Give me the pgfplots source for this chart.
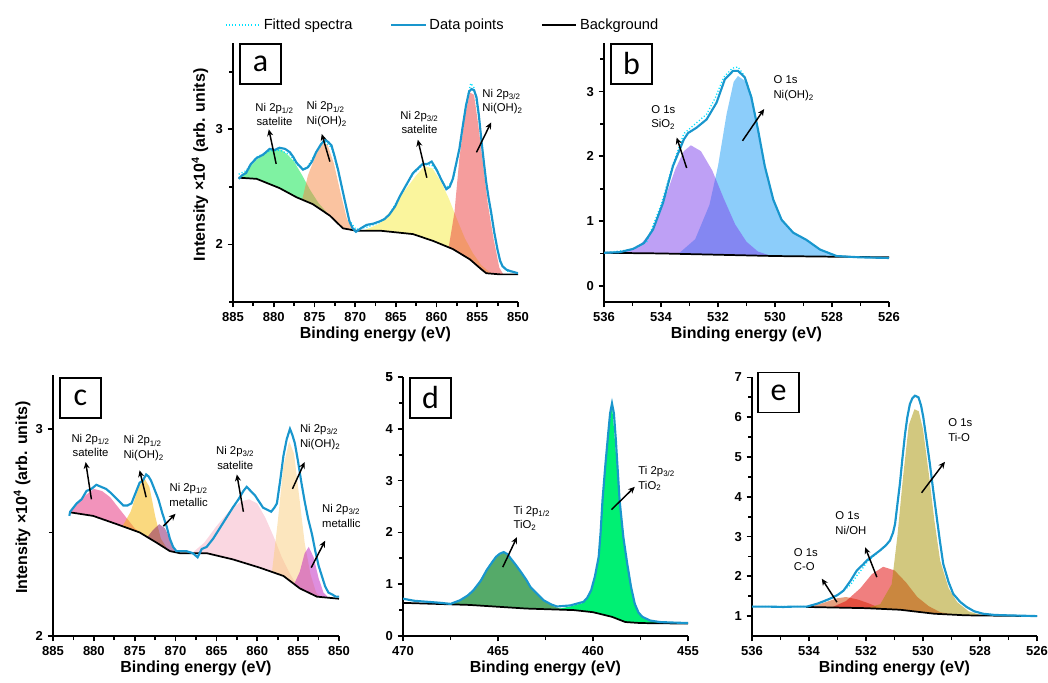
\documentclass[border=0pt]{standalone}
\usepackage{pgfplots}
\pgfplotsset{compat=1.18}
\usepackage{fontspec}
\setmainfont{Liberation Sans}
\newfontfamily\letterfont{Carlito}
\usetikzlibrary{arrows.meta}
\definecolor{dataline}{RGB}{25,150,205}
\definecolor{fitline}{RGB}{0,225,255}
\definecolor{agreen}{RGB}{0,230,70}
\definecolor{apeach}{RGB}{245,135,65}
\definecolor{ayellow}{RGB}{245,235,60}
\definecolor{ared}{RGB}{235,60,60}
\definecolor{bpurple}{RGB}{125,65,235}
\definecolor{bblue}{RGB}{25,155,245}
\definecolor{cpink}{RGB}{230,40,120}
\definecolor{cyellow}{RGB}{245,180,0}
\definecolor{cmauve}{RGB}{130,20,100}
\definecolor{clight}{RGB}{245,175,195}
\definecolor{cpeach}{RGB}{250,205,125}
\definecolor{cmag}{RGB}{190,30,190}
\definecolor{dgreen}{RGB}{85,170,105}
\definecolor{dbright}{RGB}{0,240,115}
\definecolor{esalmon}{RGB}{205,65,0}
\definecolor{ered}{RGB}{225,0,0}
\definecolor{eolive}{RGB}{165,145,0}
\pgfplotsset{
  xps/.style={scale only axis, anchor=south west, x dir=reverse,
    axis x line*=bottom, axis y line*=left, tick align=outside,
    axis line style={line width=1.3pt},
    every tick/.append style={line width=1.3pt, black},
    major tick length=4pt, minor tick length=3pt,
    tick label style={font=\bfseries\fontsize{9.75}{10}\selectfont},
    /pgf/number format/assume math mode=true,
    xlabel={Binding energy (eV)},
    label style={font=\bfseries\fontsize{12}{12}\selectfont},
    xlabel style={at={(axis description cs:0.5,-0.125)}, anchor=center},
    clip mode=individual},
  comp/.style={draw=none, fill=#1, fill opacity=0.5, forget plot},
  bgl/.style={black, line width=1.3pt, forget plot},
  datl/.style={dataline, line width=1.6pt, forget plot},
  fitl/.style={fitline, line width=1pt, dash pattern=on 0.8pt off 1.6pt, forget plot},
}
\tikzset{
  ann/.style={font=\fontsize{8.5}{11}\selectfont, align=center, inner sep=0pt},
  annw/.style={font=\fontsize{8.5}{11}\selectfont, align=left, anchor=west, inner sep=0pt},
  arr/.style={-{Stealth[length=5pt,width=4.5pt]}, line width=1.1pt, black},
  lbox/.style={draw, line width=1.2pt, minimum width=31pt, minimum height=30pt, inner sep=0pt, anchor=north west, font=\letterfont\fontsize{24}{24}\selectfont},
}
\begin{document}
\begin{tikzpicture}
\useasboundingbox (0,0) rectangle (786pt,-511.5pt);
% ---------------- a ----------------
\begin{axis}[xps, at={(174.75pt,-226.5pt)}, width=213.75pt, height=194.25pt,
  xmin=850, xmax=885, ymin=1.5, ymax=3.75,
  xtick={850,855,860,865,870,875,880,885}, minor xtick={852.5,857.5,862.5,867.5,872.5,877.5,882.5},
  ytick={2,3}, minor ytick={1.5,2.5,3.5},
  ylabel={Intensity ×10\textsuperscript{4} (arb. units)},
  ylabel style={at={(axis description cs:-0.116,0.53)}, anchor=center},
  legend style={at={(axis description cs:0.737,1.0695)}, anchor=center, draw=none, fill=none,
    legend columns=3, font=\fontsize{11}{12}\selectfont,
    /tikz/every even column/.append style={column sep=26pt}},
  legend image code/.code={\draw[#1] (0pt,0pt) -- (26pt,0pt);}]
\addlegendimage{fitline, line width=1pt, dash pattern=on 0.8pt off 1.6pt}
\addlegendentry{Fitted spectra}
\addlegendimage{dataline, line width=1.6pt}
\addlegendentry{Data points}
\addlegendimage{black, line width=1.3pt}
\addlegendentry{Background}
\addplot[comp=agreen] coordinates {(884.2,2.58)(883,2.67)(882,2.74)(881,2.79)(880.5,2.82)(879.5,2.83)(879,2.82)(878.3,2.78)(877.5,2.72)(876.5,2.60)(875.5,2.47)(874.5,2.36)(873.5,2.28)(872.5,2.21)(871.5,2.14)
  (873.1,2.25)(875.2,2.35)(877.2,2.41)(879.3,2.49)(882.1,2.57)(884.2,2.58)} -- cycle;
\addplot[comp=apeach] coordinates {(876.5,2.39)(875.8,2.60)(874.8,2.78)(874,2.88)(873.4,2.87)(872.6,2.70)(871.8,2.45)(871,2.22)(870.3,2.13)
  (871.5,2.14)(873.1,2.25)(875.2,2.35)(876.5,2.39)} -- cycle;
\addplot[comp=ayellow] coordinates {(869,2.12)(867,2.18)(865.5,2.30)(864,2.46)(862.5,2.60)(861.5,2.68)(860.5,2.66)(859.5,2.55)(858.5,2.40)(857.5,2.22)(856.5,2.05)(855.5,1.92)(854.5,1.82)(853.5,1.76)(853,1.745)
  (853.9,1.75)(855.9,1.87)(858,1.96)(860.4,2.03)(862.9,2.09)(867,2.12)(869,2.12)} -- cycle;
\addplot[comp=ared] coordinates {(858.5,1.98)(857.8,2.28)(857.2,2.75)(856.5,3.12)(855.9,3.32)(855.4,3.30)(854.9,3.05)(854.3,2.70)(853.7,2.35)(853,2.05)(852.3,1.80)(851.8,1.74)
  (852.2,1.74)(853.9,1.75)(855.9,1.87)(858,1.96)(858.5,1.98)} -- cycle;
\addplot[bgl] coordinates {(884.3,2.58)(882.1,2.57)(879.3,2.49)(877.2,2.41)(875.2,2.35)(873.1,2.25)(871.5,2.14)(869.9,2.12)(867,2.12)(862.9,2.09)(860.4,2.03)(858,1.96)(855.9,1.87)(854.6,1.79)(853.9,1.75)(852.2,1.74)(850,1.74)};
\addplot[fitl] coordinates {(884.3,2.61)(883.4,2.64)(882.1,2.76)(880.5,2.81)(879.3,2.82)(878.0,2.78)(877.2,2.70)(876.4,2.65)(875.8,2.68)(874.8,2.80)(873.8,2.90)(872.9,2.84)(872.1,2.64)(871.3,2.39)(870.7,2.21)(869.9,2.13)(868.6,2.15)(867,2.19)(865.8,2.26)(864.5,2.42)(862.9,2.61)(861.7,2.69)(860.6,2.69)(860.0,2.64)(858.8,2.49)(858.0,2.55)(857.2,2.82)(856.4,3.22)(855.8,3.40)(855.4,3.36)(854.8,3.10)(854.2,2.70)(853.6,2.38)(852.9,2.08)(852.2,1.85)(851.4,1.77)(850,1.75)};
\addplot[datl] coordinates {(884.3,2.57)(883.9,2.60)(883.4,2.62)(882.8,2.70)(882.1,2.75)(881.3,2.78)(880.5,2.83)(879.9,2.82)(879.3,2.84)(878.6,2.83)(878.0,2.80)(877.6,2.76)(877.2,2.71)(876.4,2.65)(875.8,2.67)(875.3,2.72)(874.8,2.80)(874.2,2.87)(873.7,2.91)(873.3,2.89)(872.9,2.86)(872.5,2.76)(872.1,2.65)(871.7,2.52)(871.3,2.39)(870.7,2.20)(870.3,2.14)(869.9,2.11)(869.3,2.14)(868.6,2.17)(867.8,2.18)(867.0,2.20)(866.4,2.22)(865.8,2.26)(865.1,2.33)(864.5,2.42)(863.7,2.52)(862.9,2.62)(862.3,2.66)(861.7,2.70)(861.1,2.70)(860.6,2.72)(860.0,2.65)(859.4,2.56)(858.8,2.48)(858.4,2.50)(858.0,2.57)(857.6,2.70)(857.2,2.83)(856.8,3.02)(856.4,3.20)(856.0,3.33)(855.7,3.35)(855.4,3.34)(855.1,3.28)(854.8,3.12)(854.5,2.91)(854.2,2.72)(853.9,2.54)(853.6,2.40)(853.3,2.28)(852.9,2.10)(852.5,1.95)(852.2,1.86)(851.9,1.81)(851.4,1.78)(851.0,1.77)(850.5,1.76)(850.0,1.75)};
\node[lbox] at (rel axis cs:0.021,1) {a};
\node[ann] at (axis cs:879.9,3.13) {Ni 2p\textsubscript{1/2}\\satelite};
\draw[arr] (axis cs:879.7,2.70) -- (axis cs:880.6,3.0);
\node[annw] at (axis cs:876.0,3.13) {Ni 2p\textsubscript{1/2}\\Ni(OH)\textsubscript{2}};
\draw[arr] (axis cs:873.1,2.72) -- (axis cs:874.1,2.96);
\node[ann] at (axis cs:862.1,3.06) {Ni 2p\textsubscript{3/2}\\satelite};
\draw[arr] (axis cs:861.2,2.58) -- (axis cs:862.3,2.91);
\node[annw] at (axis cs:854.4,3.24) {Ni 2p\textsubscript{3/2}\\Ni(OH)\textsubscript{2}};
\draw[arr] (axis cs:855.1,2.80) -- (axis cs:853.3,3.06);
\end{axis}
% ---------------- b ----------------
\begin{axis}[xps, at={(453pt,-226.5pt)}, width=213.75pt, height=194.25pt,
  xmin=526, xmax=536, ymin=-0.25, ymax=3.75,
  xtick={526,528,530,532,534,536}, minor xtick={527,529,531,533,535},
  ytick={0,1,2,3}, minor ytick={0.5,1.5,2.5,3.5}]
\addplot[comp=bblue] coordinates {(533.4,0.49)(532.8,0.72)(532.3,1.25)(532.0,1.85)(531.7,2.65)(531.45,3.15)(531.3,3.24)(531.0,3.15)(530.8,2.90)(530.6,2.42)(530.35,1.85)(530.05,1.33)(529.75,1.02)(529.35,0.82)(528.9,0.71)(528.4,0.56)(527.9,0.47)(527.5,0.445)
  (528,0.45)(530,0.46)(532,0.48)(533.4,0.49)} -- cycle;
\addplot[comp=bpurple] coordinates {(535.5,0.505)(534.8,0.60)(534.3,0.85)(533.9,1.30)(533.5,1.80)(533.2,2.08)(532.95,2.17)(532.6,2.08)(532.2,1.78)(531.8,1.35)(531.4,0.95)(531,0.68)(530.6,0.53)(530.2,0.47)
  (532,0.48)(534,0.50)(535.5,0.505)} -- cycle;
\addplot[bgl] coordinates {(536,0.51)(534,0.50)(532,0.48)(530,0.46)(528,0.45)(526,0.44)};
\addplot[fitl] coordinates {(536,0.51)(535,0.56)(534.5,0.68)(534,1.25)(533.6,1.85)(533.2,2.35)(532.8,2.50)(532.4,2.65)(532.1,2.90)(531.8,3.22)(531.5,3.36)(531.3,3.38)(531.1,3.26)(530.83,2.93)(530.6,2.42)(530.36,1.85)(530.06,1.33)(529.77,1.02)(529.36,0.82)(528.9,0.71)(528.42,0.56)(527.84,0.46)(527.02,0.44)(526,0.43)};
\addplot[datl] coordinates {(536,0.51)(535.45,0.52)(534.98,0.57)(534.6,0.66)(534.28,0.87)(533.93,1.28)(533.58,1.85)(533.2,2.26)(533.05,2.36)(532.76,2.44)(532.4,2.57)(532.05,2.83)(531.76,3.19)(531.47,3.32)(531.3,3.32)(531.06,3.22)(530.83,2.91)(530.6,2.42)(530.36,1.85)(530.06,1.33)(529.77,1.02)(529.36,0.82)(528.9,0.71)(528.42,0.56)(527.84,0.46)(527.02,0.44)(526,0.43)};
\node[lbox] at (rel axis cs:0.021,1) {b};
\node[annw] at (axis cs:534.35,2.60) {O 1s\\SiO\textsubscript{2}};
\draw[arr] (axis cs:533.1,1.82) -- (axis cs:533.45,2.29);
\node[annw] at (axis cs:530.06,3.05) {O 1s\\Ni(OH)\textsubscript{2}};
\draw[arr] (axis cs:531.14,2.24) -- (axis cs:530.38,2.73);
\end{axis}
% ---------------- c ----------------
\begin{axis}[xps, at={(39.75pt,-477pt)}, width=214.5pt, height=195.75pt,
  xmin=850, xmax=885, ymin=2, ymax=3.26,
  xtick={850,855,860,865,870,875,880,885}, minor xtick={852.5,857.5,862.5,867.5,872.5,877.5,882.5},
  ytick={2,3}, minor ytick={2.5},
  ylabel={Intensity ×10\textsuperscript{4} (arb. units)},
  ylabel style={at={(axis description cs:-0.108,0.53)}, anchor=center}]
\addplot[comp=cpink] coordinates {(882.8,2.60)(882,2.64)(881,2.68)(880,2.71)(879,2.70)(878,2.67)(877,2.62)(876,2.57)(875,2.52)(874.2,2.495)
  (874.4,2.50)(877.2,2.54)(880.1,2.58)(882.8,2.597)} -- cycle;
\addplot[comp=cyellow] coordinates {(876.5,2.53)(875.5,2.60)(874.5,2.72)(873.8,2.76)(873.2,2.72)(872.5,2.58)(871.8,2.47)(871,2.42)(870.5,2.41)
  (870.7,2.41)(872.3,2.45)(874.4,2.50)(876.5,2.53)} -- cycle;
\addplot[comp=cmauve] coordinates {(873.5,2.475)(872.8,2.51)(872,2.54)(871.3,2.52)(870.6,2.46)(870,2.41)(869.5,2.40)
  (870.7,2.41)(872.3,2.45)(873.5,2.475)} -- cycle;
\addplot[comp=clight] coordinates {(868,2.40)(866.5,2.45)(865,2.53)(863.5,2.60)(862,2.65)(861,2.66)(860,2.64)(859,2.57)(858,2.48)(857,2.38)(856,2.30)(855,2.235)
  (854.8,2.23)(856.8,2.29)(859.7,2.33)(863,2.37)(866.2,2.40)(868,2.40)} -- cycle;
\addplot[comp=cpeach] coordinates {(858.2,2.31)(857.5,2.55)(856.8,2.82)(856.1,2.94)(855.5,2.88)(854.8,2.65)(854.2,2.45)(853.5,2.30)(852.8,2.21)(852.3,2.19)
  (852.7,2.19)(854.8,2.23)(856.8,2.29)(858.2,2.31)} -- cycle;
\addplot[comp=cmag] coordinates {(855.5,2.25)(854.8,2.31)(854.2,2.40)(853.7,2.43)(853.1,2.38)(852.5,2.28)(851.9,2.21)(851.3,2.185)
  (852.7,2.19)(854.8,2.23)(855.5,2.25)} -- cycle;
\addplot[bgl] coordinates {(882.9,2.597)(880.1,2.58)(877.2,2.54)(874.4,2.50)(872.3,2.45)(870.7,2.41)(869.5,2.40)(866.2,2.40)(863,2.37)(859.7,2.33)(856.8,2.29)(854.8,2.23)(852.7,2.19)(850,2.18)};
\addplot[datl] coordinates {(883.0,2.58)(882.9,2.60)(882.5,2.62)(882.1,2.64)(881.5,2.66)(880.9,2.70)(880.3,2.71)(879.7,2.73)(879.1,2.72)(878.5,2.71)(877.9,2.69)(877.4,2.67)(876.9,2.65)(876.4,2.63)(875.9,2.63)(875.4,2.64)(874.9,2.69)(874.4,2.74)(874.0,2.75)(873.6,2.78)(873.3,2.77)(873.0,2.75)(872.6,2.71)(872.1,2.66)(871.6,2.59)(871.1,2.53)(870.7,2.47)(870.3,2.43)(869.9,2.41)(869.5,2.41)(868.7,2.41)(867.9,2.40)(867.3,2.38)(866.8,2.42)(866.2,2.43)(865.4,2.47)(864.6,2.52)(863.8,2.57)(863.0,2.62)(862.3,2.66)(861.7,2.70)(861.3,2.72)(860.8,2.70)(860.3,2.68)(859.8,2.65)(859.3,2.62)(858.8,2.61)(858.3,2.60)(857.9,2.62)(857.6,2.64)(857.2,2.75)(856.8,2.87)(856.4,2.95)(856.0,3.00)(855.7,2.97)(855.4,2.93)(855.0,2.84)(854.6,2.74)(854.2,2.65)(853.8,2.57)(853.3,2.49)(852.9,2.41)(852.5,2.34)(852.1,2.29)(851.7,2.24)(851.3,2.21)(850.8,2.20)(850.4,2.19)(850.0,2.19)};
\node[lbox] at (rel axis cs:0.021,0.992) {c};
\node[ann] at (axis cs:880.4,2.92) {Ni 2p\textsubscript{1/2}\\satelite};
\draw[arr] (axis cs:880.3,2.66) -- (axis cs:881.0,2.84);
\node[annw] at (axis cs:876.4,2.906) {Ni 2p\textsubscript{1/2}\\Ni(OH)\textsubscript{2}};
\draw[arr] (axis cs:873.6,2.67) -- (axis cs:874.4,2.80);
\node[ann] at (axis cs:868.4,2.68) {Ni 2p\textsubscript{1/2}\\metallic};
\draw[arr] (axis cs:871.5,2.53) -- (axis cs:870.0,2.59);
\node[ann] at (axis cs:862.7,2.86) {Ni 2p\textsubscript{3/2}\\satelite};
\draw[arr] (axis cs:861.7,2.60) -- (axis cs:862.5,2.78);
\node[annw] at (axis cs:854.8,2.96) {Ni 2p\textsubscript{3/2}\\Ni(OH)\textsubscript{2}};
\draw[arr] (axis cs:855.7,2.71) -- (axis cs:854.2,2.84);
\node[annw] at (axis cs:852.1,2.58) {Ni 2p\textsubscript{3/2}\\metallic};
\draw[arr] (axis cs:853.4,2.33) -- (axis cs:851.7,2.46);
\end{axis}
% ---------------- d ----------------
\begin{axis}[xps, at={(302.25pt,-477pt)}, width=213.75pt, height=194.25pt,
  xmin=455, xmax=470, ymin=0, ymax=5,
  xtick={455,460,465,470}, minor xtick={457.5,462.5,467.5},
  ytick={0,1,2,3,4,5}, minor ytick={0.5,1.5,2.5,3.5,4.5}]
\addplot[draw=none, fill=dgreen, forget plot] coordinates {(467.5,0.61)(467,0.69)(466.3,0.88)(465.6,1.27)(465.1,1.53)(464.7,1.61)(464.4,1.53)(463.8,1.24)(463.3,0.95)(462.6,0.69)(462,0.56)(461.5,0.51)
  (463.5,0.53)(466.5,0.60)(467.5,0.61)} -- cycle;
\addplot[draw=none, fill=dbright, forget plot] coordinates {(462,0.51)(461.2,0.57)(460.5,0.64)(460.1,0.86)(459.7,1.50)(459.5,2.60)(459.2,3.88)(459.0,4.46)(458.9,4.02)(458.6,2.60)(458.2,1.38)(457.8,0.60)(457.4,0.35)(456.5,0.26)(456,0.25)
  (457.5,0.25)(458.3,0.27)(459,0.37)(460,0.46)(461,0.50)(462,0.51)} -- cycle;
\addplot[bgl] coordinates {(470,0.64)(466.5,0.60)(463.5,0.53)(461,0.50)(460,0.46)(459,0.37)(458.3,0.27)(457.5,0.25)(455,0.24)};
\addplot[datl] coordinates {(470,0.72)(469.4,0.68)(468.7,0.66)(468,0.64)(467.5,0.62)(467.0,0.69)(466.6,0.78)(466.3,0.88)(465.9,1.07)(465.6,1.27)(465.3,1.43)(465.1,1.53)(464.9,1.59)(464.7,1.62)(464.5,1.58)(464.4,1.53)(464.1,1.39)(463.8,1.24)(463.5,1.08)(463.3,0.95)(462.9,0.80)(462.6,0.69)(462.2,0.61)(461.9,0.57)(461.2,0.59)(460.5,0.66)(460.3,0.74)(460.1,0.88)(459.9,1.15)(459.7,1.53)(459.6,2.0)(459.5,2.62)(459.35,3.30)(459.2,3.91)(459.1,4.30)(459.0,4.49)(458.9,4.30)(458.8,3.80)(458.6,2.62)(458.4,1.90)(458.2,1.40)(458.0,0.95)(457.8,0.62)(457.6,0.45)(457.4,0.37)(457.0,0.30)(456.5,0.27)(455.8,0.26)(455,0.25)};
\node[lbox] at (rel axis cs:0.021,1) {d};
\node[annw] at (axis cs:464.19,2.27) {Ti 2p\textsubscript{1/2}\\TiO\textsubscript{2}};
\draw[arr] (axis cs:464.75,1.33) -- (axis cs:464.0,1.91);
\node[annw] at (axis cs:457.62,3.04) {Ti 2p\textsubscript{3/2}\\TiO\textsubscript{2}};
\draw[arr] (axis cs:459.03,2.44) -- (axis cs:457.8,2.88);
\end{axis}
% ---------------- e ----------------
\begin{axis}[xps, at={(564pt,-477pt)}, width=213.75pt, height=194.25pt,
  xmin=526, xmax=536, ymin=0.5, ymax=7.01,
  xtick={526,528,530,532,534,536}, minor xtick={527,529,531,533,535},
  ytick={1,2,3,4,5,6,7}, minor ytick={1.5,2.5,3.5,4.5,5.5,6.5}]
\addplot[comp=esalmon] coordinates {(534,1.23)(533.5,1.33)(533,1.45)(532.7,1.48)(532.3,1.42)(531.9,1.32)(531.5,1.20)
  (532,1.20)(534,1.23)} -- cycle;
\addplot[comp=ered] coordinates {(533.2,1.22)(532.7,1.38)(532.2,1.70)(531.8,2.05)(531.4,2.24)(531.0,2.15)(530.6,1.85)(530.2,1.48)(529.8,1.25)(529.4,1.10)(529.0,1.05)(528.6,1.02)
  (529.6,1.06)(530.8,1.16)(532,1.20)(533.2,1.22)} -- cycle;
\addplot[comp=eolive] coordinates {(532,1.20)(531.5,1.30)(531.1,1.80)(530.9,3.0)(530.7,4.5)(530.5,5.8)(530.3,6.2)(530.15,6.15)(530.0,5.7)(529.8,4.6)(529.6,3.4)(529.4,2.4)(529.1,1.7)(528.8,1.35)(528.4,1.12)(528.0,1.03)(527.5,1.01)
  (528.5,1.02)(529.6,1.06)(530.8,1.16)(532,1.20)} -- cycle;
\addplot[bgl] coordinates {(534.1,1.23)(532,1.20)(530.8,1.16)(529.6,1.06)(528.5,1.02)(526,1.00)};
\addplot[fitl] coordinates {(536,1.24)(534.07,1.24)(533.5,1.36)(533.0,1.52)(532.55,1.78)(532.32,2.02)(532.1,2.22)(531.97,2.35)(531.75,2.50)(531.51,2.65)(531.3,2.78)(531.16,2.90)(531.05,3.10)(530.98,3.32)(530.9,3.80)(530.81,4.33)(530.72,4.98)(530.63,5.58)(530.55,6.00)(530.46,6.33)(530.37,6.48)(530.28,6.54)(530.16,6.50)(530.07,6.30)(529.99,6.00)(529.88,5.45)(529.76,4.83)(529.64,4.15)(529.52,3.49)(529.4,2.85)(529.29,2.31)(529.1,1.85)(528.94,1.56)(528.7,1.36)(528.47,1.23)(528.2,1.12)(527.89,1.06)(527.5,1.03)(527.07,1.02)(526.5,1.01)(526,1.0)};
\addplot[datl] coordinates {(536,1.24)(535.5,1.24)(534.9,1.23)(534.5,1.24)(534.07,1.24)(533.72,1.31)(533.5,1.37)(533.26,1.44)(533.0,1.53)(532.79,1.64)(532.55,1.88)(532.32,2.15)(532.1,2.30)(531.97,2.40)(531.75,2.52)(531.51,2.65)(531.3,2.78)(531.16,2.90)(531.05,3.10)(530.98,3.32)(530.9,3.80)(530.81,4.33)(530.72,4.98)(530.63,5.58)(530.55,6.00)(530.46,6.33)(530.37,6.48)(530.28,6.54)(530.16,6.50)(530.07,6.30)(529.99,6.00)(529.88,5.45)(529.76,4.83)(529.64,4.15)(529.52,3.49)(529.4,2.85)(529.29,2.31)(529.1,1.85)(528.94,1.56)(528.7,1.36)(528.47,1.23)(528.2,1.12)(527.89,1.06)(527.5,1.03)(527.07,1.02)(526.5,1.01)(526,1.0)};
\node[lbox] at (rel axis cs:0.0175,1.02) {e};
\node[annw] at (axis cs:534.54,2.42) {O 1s\\C-O};
\draw[arr] (axis cs:533.02,1.35) -- (axis cs:533.55,1.94);
\node[annw] at (axis cs:533.08,3.34) {O 1s\\Ni/OH};
\draw[arr] (axis cs:531.62,1.98) -- (axis cs:532.03,2.73);
\node[annw] at (axis cs:529.12,5.68) {O 1s\\Ti-O};
\draw[arr] (axis cs:530.05,4.10) -- (axis cs:529.23,4.88);
\end{axis}
% top tick label of panel d, drawn last so that nothing covers it
\draw[line width=1.3pt] (302.25pt,-282.75pt) -- (298.25pt,-282.75pt);
\node[anchor=east, font=\bfseries\fontsize{9.75}{10}\selectfont] at (298.25pt,-282.75pt) {5};
\end{tikzpicture}
\end{document}
